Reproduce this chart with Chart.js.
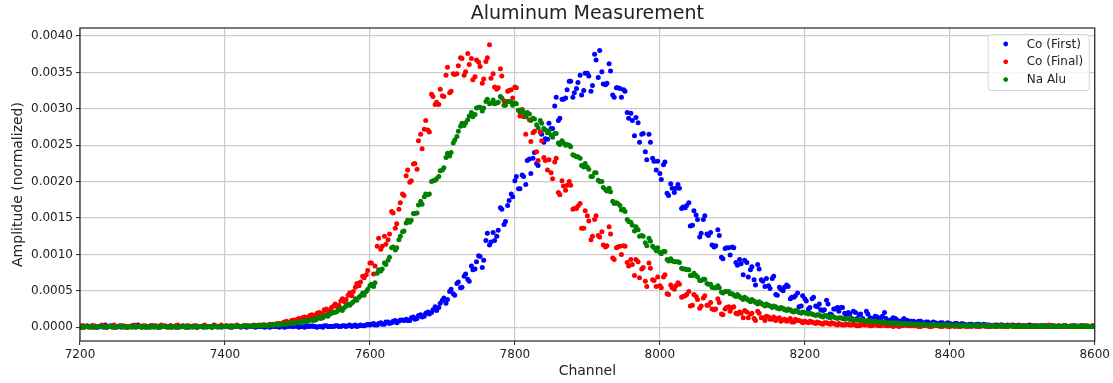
<!DOCTYPE html>
<html>
<head>
<meta charset="utf-8">
<title>Aluminum Measurement</title>
<script src="https://cdn.jsdelivr.net/npm/chart.js@4"></script>
<style>
  html, body { margin: 0; padding: 0; background: #fff; }
  #wrap { width: 1113px; height: 383px; }
</style>
</head>
<body>
<div id="wrap"><canvas id="myChart" width="1113" height="383"></canvas></div>
<script>
// two interleaved passes: channels 7200+5i and 7202+5i
var channelStart = 7200;
var channelStep = 5;
var midOffset = 2;
// amplitudes in units of 1e-5 (normalized)
var coFirst = [
  1,0,2,1,1,0,1,3,1,0,        // 7200
  1,2,1,0,1,1,3,1,0,1,        // 7250
  2,1,0,1,1,2,1,0,1,1,        // 7300
  0,1,2,1,0,1,1,3,1,0,        // 7350
  1,1,0,2,1,1,0,1,2,1,        // 7400
  1,0,1,2,1,0,1,1,2,1,        // 7450
  1,1,0,1,2,1,1,0,2,1,        // 7500
  1,2,1,2,2,1,3,2,2,3,        // 7550
  3,5,3,6,4,7,6,9,8,10,       // 7600
  11,9,14,12,17,15,21,20,28,27,            // 7650
  37,33,49,46,60,54,70,66,84,80,           // 7700
  98,82,119,113,130,125,164,141,167,183,   // 7750
  201,190,209,196,231,232,225,268,254,258, // 7800
  273,304,284,313,315,338,316,328,346,325, // 7850
  349,324,375,343,351,333,362,319,329,328, // 7900
  326,295,294,263,281,265,241,265,232,216, // 7950
  211,223,184,197,185,196,163,164,171,140, // 8000
  154,124,148,128,130,110,134,96,108,109,  // 8050
  110,89,93,72,89,79,65,86,65,56,          // 8100
  57,67,45,55,50,58,39,41,47,29,           // 8150
  39,25,39,29,32,23,37,18,25,27,           // 8200
  27,19,20,12,20,17,12,22,13,9,            // 8250
  14,12,20,9,11,12,8,10,9,7,  // 8300
  8,6,8,5,7,5,6,4,6,4,        // 8350
  5,4,5,4,4,3,4,3,4,3,        // 8400
  3,3,2,3,3,2,3,2,2,3,        // 8450
  2,2,3,1,2,2,1,2,2,1,        // 8500
  2,1,2,1,2,1,1,2,1,1,        // 8550
  1                           // 8600
];
var coFirstMid = [
  0,1,1,2,0,1,1,0,2,1,        // 7202
  1,0,1,1,2,0,1,1,1,2,        // 7252
  1,0,1,2,1,1,0,1,2,0,        // 7302
  1,1,0,1,2,1,0,1,1,1,        // 7352
  2,0,1,1,0,1,2,1,0,1,        // 7402
  1,1,0,1,1,2,0,1,1,2,        // 7452
  0,1,2,1,1,0,1,2,1,1,        // 7502
  2,1,2,1,3,2,1,3,2,4,        // 7552
  4,3,5,4,7,5,8,6,10,9,       // 7602
  9,13,11,16,14,19,18,24,23,33,            // 7652
  40,38,52,44,62,55,73,63,79,90,           // 7702
  97,92,129,117,119,133,162,145,174,179,   // 7752
  207,190,207,229,211,240,222,265,259,280, // 7802
  273,316,287,313,326,338,322,336,319,349, // 7852
  345,332,367,380,334,335,352,316,329,316, // 7902
  324,287,284,288,254,266,230,254,228,228, // 7952
  203,227,181,191,191,191,165,167,139,160, // 8002
  148,129,153,126,113,112,126,94,109,99,   // 8052
  109,85,87,92,69,83,58,80,63,67,          // 8102
  53,70,44,52,55,56,41,43,28,43,           // 8152
  36,27,41,28,24,24,32,17,25,22,           // 8202
  27,17,18,22,12,18,8,18,12,15,            // 8252
  11,15,12,9,13,10,8,12,9,8,  // 8302
  7,8,6,7,5,7,5,6,4,6,        // 8352
  4,5,3,5,3,4,3,4,3,4,        // 8402
  3,2,3,2,3,2,2,3,2,2,        // 8452
  2,1,2,2,1,2,2,1,2,1,        // 8502
  1,2,1,1,2,1,2,1,1,2         // 8552
];
var coFinal = [
  1,2,1,0,2,1,3,1,1,2,        // 7200
  0,1,2,1,1,3,1,0,2,1,        // 7250
  1,2,1,1,0,2,1,3,1,1,        // 7300
  2,1,0,1,2,1,1,2,1,3,        // 7350
  1,1,2,1,1,2,2,1,3,2,        // 7400
  2,3,3,4,4,5,6,8,7,10,       // 7450
  11,9,14,12,17,15,20,18,25,23,            // 7500
  29,28,36,35,44,43,55,57,70,72,           // 7550
  88,73,111,107,125,120,159,136,162,183,   // 7600
  208,199,224,217,265,272,271,320,306,306, // 7650
  318,346,322,348,348,370,346,376,369,344, // 7700
  364,335,365,388,348,327,355,311,324,326, // 7750
  330,298,299,265,285,267,241,268,233,216, // 7800
  212,227,185,201,188,200,162,163,170,136, // 7850
  153,120,148,126,131,110,138,95,109,111,  // 7900
  112,89,93,71,90,80,63,88,65,56,          // 7950
  57,69,46,58,52,61,41,43,49,30,           // 8000
  42,26,40,30,34,24,39,18,25,28,           // 8050
  27,19,21,13,21,18,12,22,13,9,            // 8100
  14,11,9,13,10,8,12,7,9,8,   // 8150
  8,6,7,5,6,4,6,4,5,3,        // 8200
  4,3,4,3,3,2,4,3,2,3,        // 8250
  3,2,3,2,2,3,1,2,3,2,        // 8300
  2,2,1,3,2,1,2,2,1,2,        // 8350
  1,2,2,1,2,1,1,2,1,2,        // 8400
  1,1,2,1,2,1,1,3,1,1,        // 8450
  2,1,1,2,1,1,2,1,1,2,        // 8500
  1,1,2,1,1,2,1,1,2,1,        // 8550
  1                           // 8600
];
var coFinalMid = [
  2,1,0,2,1,1,2,0,1,3,        // 7202
  1,2,1,0,2,1,1,2,1,0,        // 7252
  2,1,3,1,1,0,2,1,1,2,        // 7302
  1,2,1,1,3,1,0,2,1,1,        // 7352
  2,1,1,3,1,2,1,2,2,3,        // 7402
  3,2,4,3,5,4,7,6,9,8,        // 7452
  12,13,13,16,16,19,19,24,22,27,           // 7502
  32,30,39,38,47,49,60,62,68,78,           // 7552
  88,84,122,111,114,128,157,142,171,181,   // 7602
  216,201,225,256,245,284,268,317,309,327, // 7652
  317,357,324,347,359,369,351,361,340,367, // 7702
  358,341,370,342,330,329,345,309,325,315, // 7752
  329,290,289,293,255,269,229,256,229,230, // 7802
  204,232,182,194,195,195,163,166,136,160, // 7852
  146,125,153,124,113,112,128,93,110,100,  // 7902
  111,84,86,93,68,82,56,81,64,69,          // 7952
  54,72,45,54,57,59,42,45,29,45,           // 8002
  38,29,43,30,25,25,34,17,27,22,           // 8052
  28,18,19,23,13,19,9,19,13,15,            // 8102
  11,14,12,8,11,10,7,11,9,6,  // 8152
  7,8,6,7,5,6,5,6,4,5,        // 8202
  3,4,3,4,2,3,3,4,2,3,        // 8252
  2,3,2,3,1,2,2,3,2,2,        // 8302
  2,1,2,2,1,3,2,1,2,1,        // 8352
  2,1,1,2,1,2,2,1,1,2,        // 8402
  1,2,1,1,3,1,2,1,1,2,        // 8452
  1,2,1,1,2,1,1,3,1,1,        // 8502
  2,1,1,2,1,1,2,1,1,2         // 8552
];
var naAlu = [
  1,0,1,1,0,1,1,0,1,1,        // 7200
  0,1,1,0,1,1,1,0,1,0,        // 7250
  1,1,0,1,1,0,1,1,1,0,        // 7300
  1,0,1,1,1,0,1,1,0,1,        // 7350
  1,1,1,2,1,1,2,1,2,2,        // 7400
  2,3,2,3,4,3,5,4,6,5,        // 7450
  7,6,9,8,11,10,14,13,17,18,               // 7500
  21,22,26,27,32,33,39,41,47,49,           // 7550
  57,56,74,77,88,92,109,106,120,131,       // 7600
  143,144,156,157,173,179,182,200,202,207, // 7650
  216,233,235,253,262,276,277,285,295,292, // 7700
  302,297,310,307,312,308,317,305,310,309, // 7750
  308,298,298,289,293,287,278,284,273,267, // 7800
  264,266,253,256,250,250,237,234,232,220, // 7850
  220,207,212,202,200,189,191,173,171,167, // 7900
  162,148,144,132,134,126,116,122,111,105, // 7950
  103,104,93,94,90,90,81,80,79,71,         // 8000
  71,64,66,60,59,54,57,48,49,49,           // 8050
  46,42,42,38,39,35,36,32,33,29,           // 8100
  30,27,28,25,26,23,24,21,22,19,           // 8150
  20,18,18,16,17,14,16,13,14,12,           // 8200
  13,11,12,10,10,9,9,8,8,7,   // 8250
  7,6,7,5,6,5,5,4,5,4,        // 8300
  4,4,3,4,3,3,3,2,3,3,        // 8350
  3,2,3,2,2,3,2,2,2,2,        // 8400
  2,2,2,1,2,2,1,2,1,2,        // 8450
  1,2,1,2,1,1,2,1,1,1,        // 8500
  1,1,2,1,1,1,2,1,1,1,        // 8550
  1                           // 8600
];
var naAluMid = [
  0,1,1,0,1,1,0,1,1,0,        // 7202
  1,1,0,1,0,1,1,1,0,1,        // 7252
  0,1,1,1,0,1,1,0,1,1,        // 7302
  1,1,0,1,1,1,0,1,1,1,        // 7352
  1,2,1,1,1,2,1,2,2,2,        // 7402
  3,2,3,3,3,4,4,5,5,6,        // 7452
  6,8,7,10,9,12,12,15,15,19,               // 7502
  20,24,23,29,30,35,37,43,44,52,           // 7552
  59,61,79,80,86,96,110,109,125,132,       // 7602
  147,147,156,168,169,183,183,201,204,215, // 7652
  219,239,240,257,269,280,281,290,289,301, // 7702
  302,301,313,308,307,309,315,305,310,305, // 7752
  307,296,295,295,284,286,274,280,271,270, // 7802
  261,266,251,253,251,248,236,234,222,225, // 7852
  217,207,212,200,192,187,186,170,170,161, // 7902
  159,145,140,138,125,125,112,118,109,109, // 7952
  101,104,91,91,90,89,80,79,71,74,         // 8002
  69,64,66,59,55,54,54,47,49,46,           // 8052
  44,45,40,41,37,38,34,35,31,32,           // 8102
  29,29,26,27,24,25,22,23,20,21,           // 8152
  19,19,17,17,15,16,14,15,13,13,           // 8202
  12,12,11,11,10,10,9,9,8,8,  // 8252
  7,7,6,6,5,6,5,5,4,5,        // 8302
  4,4,4,3,3,4,3,3,3,3,        // 8352
  2,3,2,3,2,2,2,3,2,2,        // 8402
  2,1,2,2,1,2,2,1,2,1,        // 8452
  2,1,1,2,1,2,1,1,2,1,        // 8502
  1,2,1,1,1,1,1,2,1,1         // 8552
];
var seriesLabels = ["Co (First)", "Co (Final)", "Na Alu"];
var seriesColors = ['#0000ff', '#ff0000', '#008000'];
var xTicks = [7200, 7400, 7600, 7800, 8000, 8200, 8400, 8600];

var fontFamily = "'DejaVu Sans', sans-serif";
var textColor = '#222';

function toPoints(values, midValues) {
  var pts = [];
  for (var i = 0; i < values.length; i++) {
    pts.push({ x: channelStart + i * channelStep, y: values[i] * 1e-5 });
    if (i < midValues.length) {
      pts.push({ x: channelStart + midOffset + i * channelStep, y: midValues[i] * 1e-5 });
    }
  }
  return pts;
}

// black box around the plot area, like matplotlib spines
var frame = {
  id: 'frame',
  afterDraw: function(chart) {
    var a = chart.chartArea, ctx = chart.ctx;
    ctx.save();
    ctx.strokeStyle = '#222';
    ctx.lineWidth = 1.2;
    ctx.strokeRect(a.left, a.top, a.right - a.left, a.bottom - a.top);
    ctx.restore();
  }
};

// legend in the upper right corner of the plot
var cornerLegend = {
  id: 'cornerLegend',
  afterDraw: function(chart) {
    var a = chart.chartArea, ctx = chart.ctx;
    var w = 101, h = 56;
    var x = a.right - 6 - w, y = a.top + 6;
    ctx.save();
    ctx.beginPath();
    ctx.roundRect(x + 0.5, y + 0.5, w, h, 3);
    ctx.fillStyle = 'rgba(255,255,255,0.8)';
    ctx.fill();
    ctx.strokeStyle = '#d4d4d4';
    ctx.lineWidth = 1;
    ctx.stroke();
    ctx.font = '12px ' + fontFamily;
    ctx.textBaseline = 'middle';
    chart.data.datasets.forEach(function(ds, i) {
      var cy = y + 10 + i * 17.8;
      ctx.beginPath();
      ctx.arc(x + 18, cy, 2.4, 0, Math.PI * 2);
      ctx.fillStyle = ds.backgroundColor;
      ctx.fill();
      ctx.fillStyle = textColor;
      ctx.fillText(ds.label, x + 39, cy + 0.5);
    });
    ctx.restore();
  }
};

new Chart("myChart", {
  type: "scatter",
  data: {
    datasets: [
      { label: seriesLabels[0], data: toPoints(coFirst, coFirstMid), backgroundColor: seriesColors[0], order: 2 },
      { label: seriesLabels[1], data: toPoints(coFinal, coFinalMid), backgroundColor: seriesColors[1], order: 1 },
      { label: seriesLabels[2], data: toPoints(naAlu, naAluMid), backgroundColor: seriesColors[2], order: 0 }
    ]
  },
  options: {
    responsive: false,
    animation: false,
    events: [],
    layout: { padding: { left: 0, right: 18, top: 0, bottom: 0 } },
    elements: {
      point: { radius: 2.5, borderWidth: 0, hoverRadius: 2.5 }
    },
    plugins: {
      legend: { display: false },
      tooltip: { enabled: false },
      title: {
        display: true,
        fullSize: false,
        text: "Aluminum Measurement",
        color: textColor,
        font: { family: fontFamily, size: 19, weight: 'normal' },
        padding: { top: 3, bottom: 2.2 }
      }
    },
    scales: {
      x: {
        type: 'linear',
        min: 7200,
        max: 8600,
        afterFit: function(scale) { scale.height = 42; },
        afterBuildTicks: function(scale) {
          scale.ticks = xTicks.map(function(v) { return { value: v }; });
        },
        ticks: {
          color: textColor,
          font: { family: fontFamily, size: 12 },
          padding: 3,
          maxRotation: 0,
          callback: function(v) { return String(v); }
        },
        grid: { color: '#cccccc', lineWidth: 1.2, tickLength: 4, tickColor: '#222', tickWidth: 1 },
        border: { display: false },
        title: {
          display: true,
          text: "Channel",
          color: textColor,
          font: { family: fontFamily, size: 14 },
          padding: { top: 0, bottom: 3 }
        }
      },
      y: {
        type: 'linear',
        min: -0.00019,
        max: 0.00411,
        afterFit: function(scale) { scale.width = 80; },
        ticks: {
          stepSize: 0.0005,
          includeBounds: false,
          color: textColor,
          font: { family: fontFamily, size: 12 },
          padding: 3,
          callback: function(v) {
            if (Math.abs(v) < 1e-9) v = 0;
            return v.toFixed(4);
          }
        },
        grid: { color: '#cccccc', lineWidth: 1.2, tickLength: 4, tickColor: '#222', tickWidth: 1 },
        border: { display: false },
        title: {
          display: true,
          text: "Amplitude (normalized)",
          color: textColor,
          font: { family: fontFamily, size: 14 },
          padding: { top: 10, bottom: 0 }
        }
      }
    }
  },
  plugins: [frame, cornerLegend]
});
</script>
</body>
</html>
